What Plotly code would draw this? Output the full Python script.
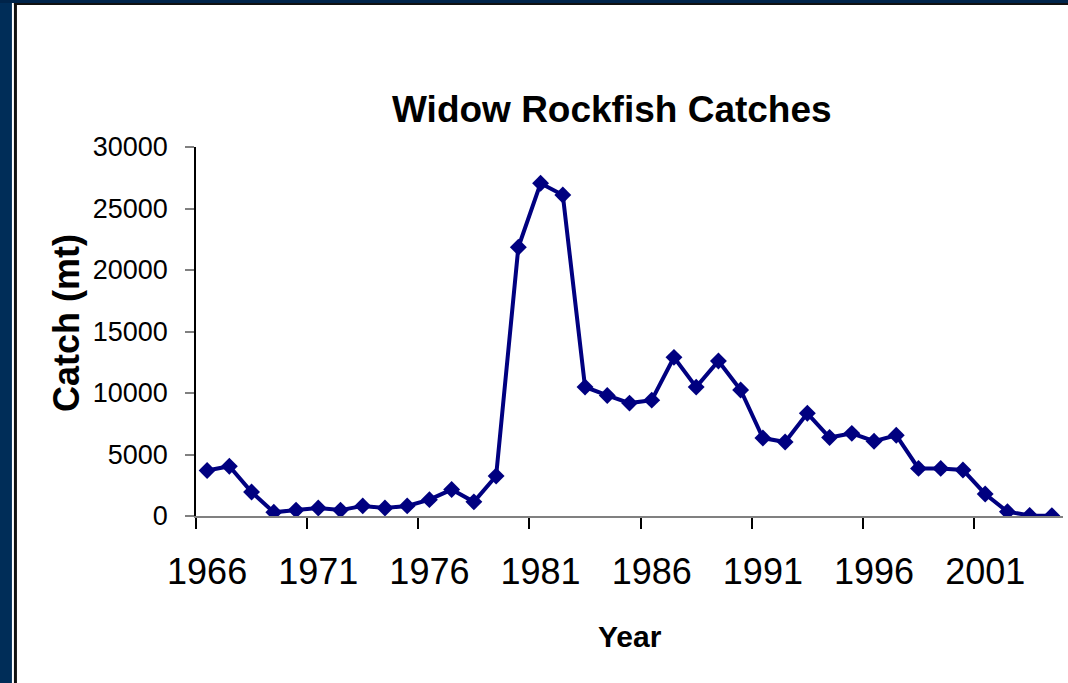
import plotly.graph_objects as go

years = list(range(1966, 2005))
catch_mt = [3700, 4050, 1950, 300, 480, 650, 480, 820, 650, 820,
            1330, 2150, 1150, 3250, 21850, 27050, 26100, 10490, 9800, 9180,
            9420, 12900, 10480, 12600, 10250, 6340, 6020, 8350, 6380, 6720,
            6080, 6560, 3870, 3870, 3740, 1790, 350, 50, 30]
x_label_years = [1966, 1971, 1976, 1981, 1986, 1991, 1996, 2001]
y_ticks = [0, 5000, 10000, 15000, 20000, 25000, 30000]

W, H = 1068, 683
L, R, T, B = 196, 1062.7, 147, 516


def px(x):
    return (x - L) / (R - L)


def py(y):
    return (B - y) / (B - T)


fig = go.Figure()
fig.add_trace(go.Scatter(
    x=years, y=catch_mt, mode="lines+markers",
    line=dict(color="#000080", width=4),
    marker=dict(symbol="diamond", size=13, color="#000080"),
    showlegend=False, hoverinfo="x+y"))

font = "Arial, Liberation Sans, sans-serif"

shapes = [
    dict(type="rect", xref="paper", yref="paper", x0=px(0), x1=px(12), y0=py(683), y1=py(0),
         fillcolor="#002d58", line=dict(width=0), layer="above"),
    dict(type="rect", xref="paper", yref="paper", x0=px(0), x1=px(1068), y0=py(3), y1=py(0),
         fillcolor="#00244a", line=dict(width=0), layer="above"),
    dict(type="rect", xref="paper", yref="paper", x0=px(14), x1=px(17), y0=py(683), y1=py(3),
         fillcolor="#111111", line=dict(width=0), layer="above"),
    dict(type="rect", xref="paper", yref="paper", x0=px(14), x1=px(1068), y0=py(5), y1=py(3),
         fillcolor="#111111", line=dict(width=0), layer="above"),
]

annotations = [
    dict(text="<b>Widow Rockfish Catches</b>", xref="paper", yref="paper",
         x=px(612), y=py(109), xanchor="center", yanchor="middle", showarrow=False,
         font=dict(family=font, size=37, color="black")),
    dict(text="<b>Year</b>", xref="paper", yref="paper",
         x=px(630), y=py(636), xanchor="center", yanchor="middle", showarrow=False,
         font=dict(family=font, size=30, color="black")),
    dict(text="<b>Catch (mt)</b>", xref="paper", yref="paper", textangle=-90,
         x=px(66), y=py(323), xanchor="center", yanchor="middle", showarrow=False,
         font=dict(family=font, size=36, color="black")),
]

fig.update_layout(
    width=W, height=H,
    margin=dict(l=L, r=W - R, t=T, b=H - B, pad=0),
    paper_bgcolor="white", plot_bgcolor="white",
    shapes=shapes, annotations=annotations,
    xaxis=dict(
        range=[1965.5, 2004.5], tickmode="array", tickvals=x_label_years,
        ticktext=[str(v) for v in x_label_years], ticks="", ticklabelstandoff=23,
        tickfont=dict(family=font, size=36, color="black"),
        showline=True, linecolor="#808080", linewidth=2,
        showgrid=False, zeroline=False,
        minor=dict(tickmode="array", tickvals=[1965.5 + 5 * k for k in range(8)],
                   ticks="outside", ticklen=11, tickwidth=1.5, tickcolor="black"),
    ),
    yaxis=dict(
        range=[0, 30000], tickmode="array", tickvals=y_ticks,
        ticktext=[str(v) for v in y_ticks],
        ticks="outside", ticklen=9, tickwidth=2, tickcolor="#808080",
        ticklabelstandoff=12,
        tickfont=dict(family=font, size=27, color="black"),
        showline=True, linecolor="black", linewidth=1.5,
        showgrid=False, zeroline=False,
    ),
)

fig.write_html("out.html")
